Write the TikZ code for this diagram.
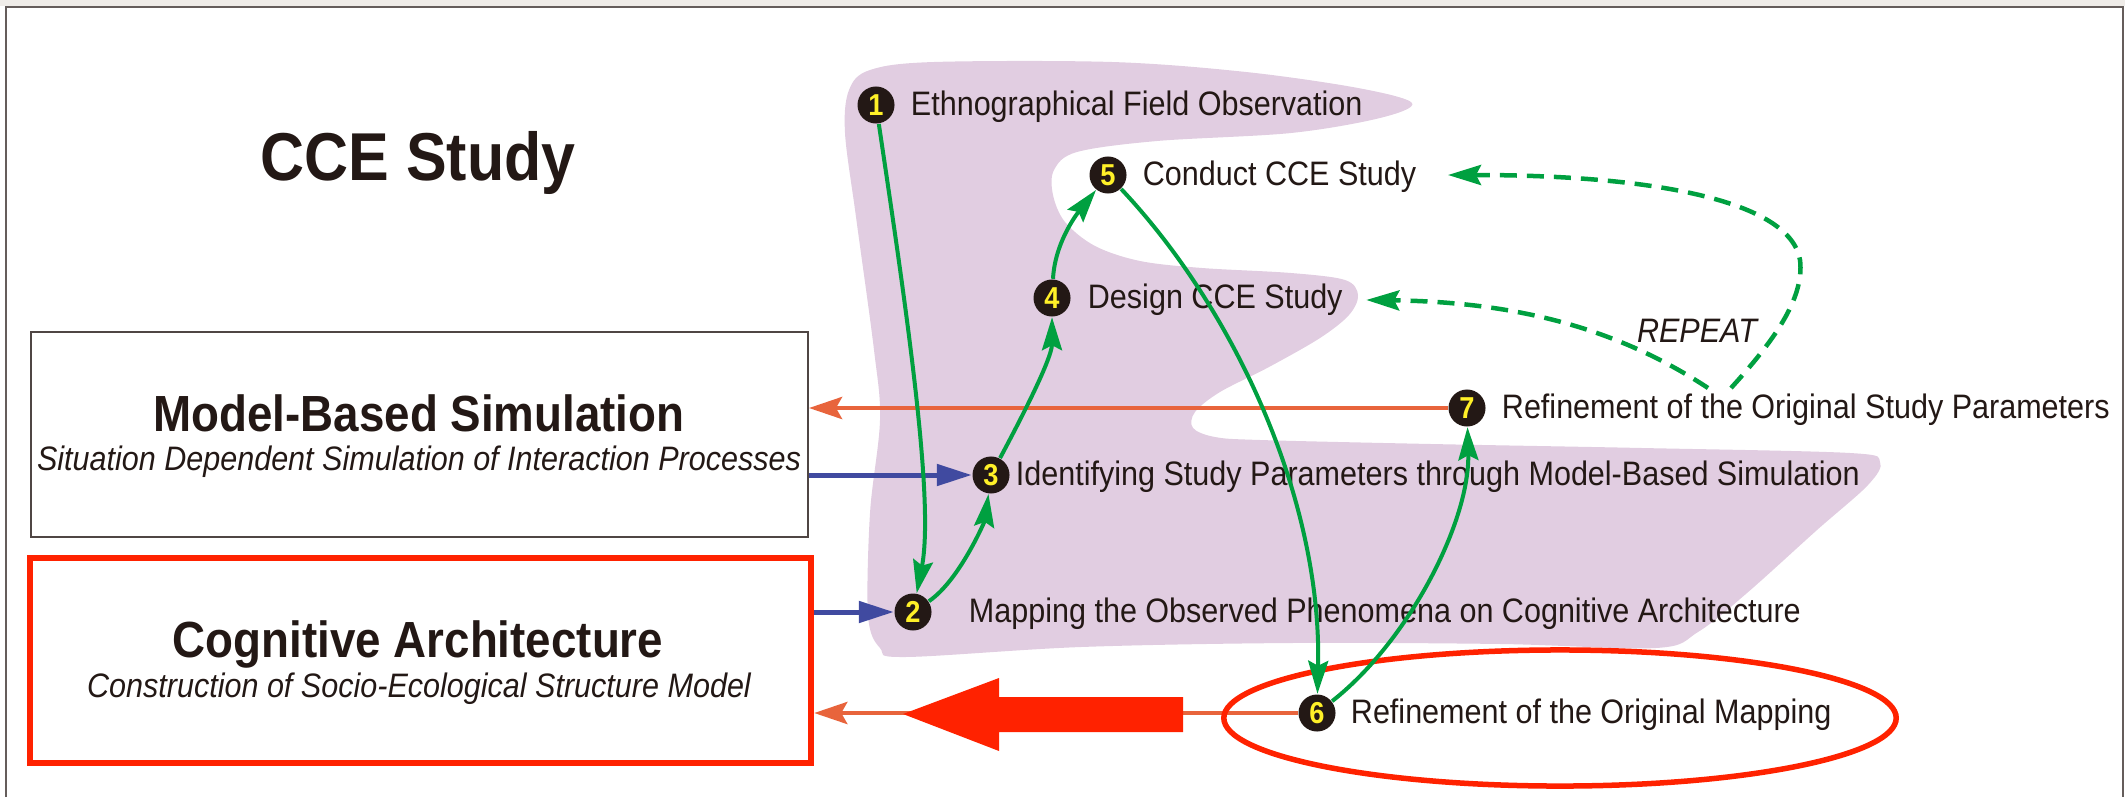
\documentclass[tikz,border=0pt]{standalone}
\usepackage{fontspec}
\setmainfont{Liberation Sans}[FakeStretch=0.9]
\usetikzlibrary{positioning, arrows.meta, shapes.geometric}

\definecolor{ink}{RGB}{35,24,21}
\definecolor{lilac}{RGB}{225,205,225}
\definecolor{flowgreen}{RGB}{0,160,64}
\definecolor{feedorange}{RGB}{232,100,60}
\definecolor{inputblue}{RGB}{64,74,160}
\definecolor{alertred}{RGB}{255,34,0}
\definecolor{numyellow}{RGB}{255,240,40}
\definecolor{framegray}{RGB}{239,236,232}

\begin{document}
\begin{tikzpicture}
[x=0.01cm, y=-0.01cm,
 numbered/.style={circle, fill=ink, text=numyellow, minimum size=0.37cm, inner sep=0pt,
 font=\fontsize{8.6pt}{9pt}\selectfont\bfseries},
 phase/.style={font=\fontsize{9.65pt}{11pt}\selectfont, text=ink, inner sep=0pt,
 text height=0.27cm, text depth=0.07cm},
 boxhead/.style={font=\fontsize{14.45pt}{16pt}\selectfont\bfseries, text=ink, inner sep=0pt, anchor=base},
 boxsub/.style={font=\fontsize{9.65pt}{11pt}\selectfont\itshape, text=ink, inner sep=0pt, anchor=base},
 flow/.style={-{Stealth[length=0.33cm, width=0.2cm, inset=0.05cm]}, flowgreen, line width=0.04cm},
 repeatflow/.style={flow, line width=0.045cm, dash pattern=on 0.17cm off 0.1cm},
 feedback/.style={-{Stealth[length=0.33cm, width=0.22cm, inset=0.06cm]}, feedorange, line width=0.045cm},
 input/.style={-{Triangle[length=0.35cm, width=0.21cm]}, inputblue, line width=0.05cm}
]
\useasboundingbox (0,0) rectangle (2125,797);
\fill[framegray] (0,0) rectangle (2125,6);
\draw[ink!70, line width=0.02cm] (6,797) |- (2123,7) -- (2123,797);

% study area
\fill[lilac] plot[smooth cycle, tension=0.55] coordinates {
 (849,90) (870,70) (934,62) (1112,62) (1246,72) (1358,88) (1412,103) (1380,118)
 (1291,133) (1157,141) (1077,152) (1054,170) (1053,195) (1065,222) (1095,246)
 (1140,261) (1202,268) (1291,273) (1345,280) (1358,295) (1349,315) (1320,338)
 (1269,367) (1220,392) (1195,412) (1193,428) (1215,437) (1260,440) (1431,444)
 (1642,448) (1850,453) (1880,462) (1868,485) (1817,530) (1747,593) (1698,632)
 (1656,648) (1501,644) (1291,643) (1081,647) (905,657) (880,648) (868,615)
 (870,513) (880,420) (874,350) (856,217) (845,133)};

\node[font=\fontsize{19.26pt}{22pt}\selectfont\bfseries, text=ink, anchor=base, inner sep=0pt] (title) at (418,180) {CCE Study};

\node[draw=ink!80, line width=0.015cm, minimum width=7.77cm, minimum height=2.05cm, inner sep=0pt] (mbs) at (419.5,434.5) {};
\node[boxhead] (mbshead) at (419,431) {Model-Based Simulation};
\node[boxsub] (mbssub) at (419,470) {Situation Dependent Simulation of Interaction Processes};
\node[draw=alertred, line width=0.06cm, minimum width=7.81cm, minimum height=2.05cm, inner sep=0pt] (ca) at (420.5,660.5) {};
\node[boxhead] (cahead) at (418,657) {Cognitive Architecture};
\node[boxsub] (casub) at (419,697) {Construction of Socio-Ecological Structure Model};

\node[numbered] (n1) at (876,105) {1};
\node[numbered] (n2) at (913,612) {2};
\node[numbered] (n3) at (991,475) {3};
\node[numbered] (n4) at (1052,298) {4};
\node[numbered] (n5) at (1108,175) {5};
\node[numbered] (n6) at (1317,713) {6};
\node[numbered] (n7) at (1467,408) {7};

\node[phase, right=0.15cm of n1] (t1) {Ethnographical Field Observation};
\node[phase, right=0.36cm of n2] (t2) {Mapping the Observed Phenomena on Cognitive Architecture};
\node[phase, right=0.05cm of n3] (t3) {Identifying Study Parameters through Model-Based Simulation};
\node[phase, right=0.16cm of n4] (t4) {Design CCE Study};
\node[phase, right=0.15cm of n5] (t5) {Conduct CCE Study};
\node[phase, right=0.14cm of n6] (t6) {Refinement of the Original Mapping};
\node[phase, right=0.15cm of n7] (t7) {Refinement of the Original Study Parameters};

\node[boxsub] (repeat) at (1697,342) {REPEAT};
\coordinate (backA) at (1708,388);
\coordinate (backB) at (1731,388);

\draw[feedback] (n7) -- (n7 -| mbs.east);
\draw[feedback] (n6) -- (n6 -| ca.east);
\draw[input] (mbs.east |- n3) -- (n3);
\draw[input] (ca.east |- n2) -- (n2);

\fill[alertred] (903,714) -- (999,678) -- (999,697) -- (1183,697) -- (1183,732)
 -- (999,732) -- (999,751) -- cycle;
\node[draw=alertred, ellipse, line width=0.055cm, minimum width=6.72cm, minimum height=1.36cm, inner sep=0pt] (focus) at (1560,718) {};

\draw[flow] (n1) .. controls (905,300) and (935,500) .. (n2);
\draw[flow] (n2) .. controls (960,580) and (985,520) .. (n3);
\draw[flow] (n3) .. controls (1015,430) and (1052,360) .. (n4);
\draw[flow] (n4) .. controls (1055,240) and (1080,210) .. (n5);
\draw[flow] (n5) .. controls (1235,310) and (1322,500) .. (n6);
\draw[flow] (n6) .. controls (1410,640) and (1470,520) .. (n7);

\draw[repeatflow, shorten >=0.23cm] (backA) .. controls (1620,330) and (1520,302) .. (t4);
\draw[repeatflow, shorten >=0.31cm] (backB) .. controls (1770,345) and (1805,300) .. (1800,260)
 .. controls (1790,200) and (1650,175) .. (t5);
\end{tikzpicture}
\end{document}
